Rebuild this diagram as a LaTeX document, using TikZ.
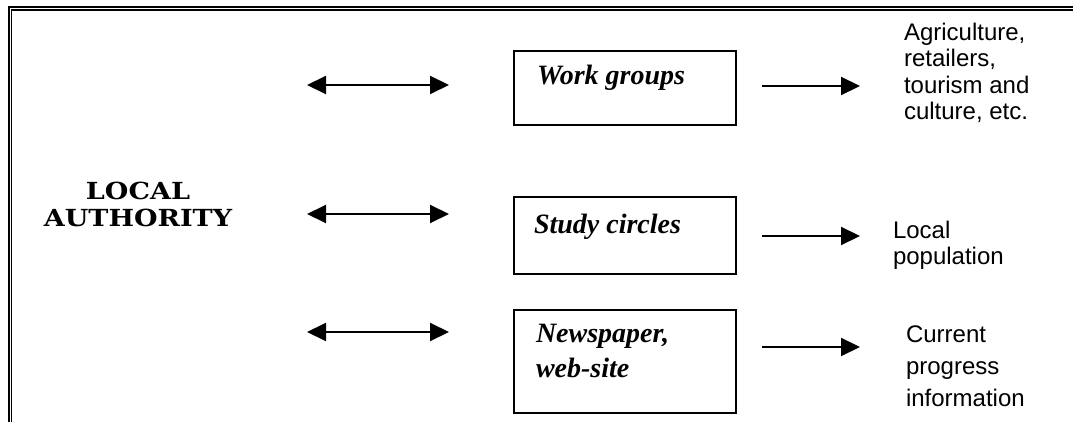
\documentclass[tikz,border=0pt]{standalone}
\usepackage{fontspec}
\usetikzlibrary{arrows.meta}
\setmainfont{Liberation Serif}
\newfontfamily\labelfont{Liberation Sans}
\newfontfamily\headfont[FakeStretch=1.15]{DejaVu Serif}

\begin{document}
\begin{tikzpicture}[x = 1pt, y = -1pt, line width = 2pt,
  box/.style = {draw, anchor = north west, minimum width = 222pt, inner sep = 0pt},
  boxtext/.style = {anchor = north west, inner sep = 0pt, align = left,
    font = \fontsize{28}{35}\selectfont\bfseries\itshape},
  sidetext/.style = {anchor = north west, inner sep = 0pt, align = left,
    font = \labelfont\fontsize{24}{26.5}\selectfont},
  tip/.style = {-{Triangle[length = 19pt, width = 18pt]}},
  both/.style = {{Triangle[length = 19pt, width = 18pt]}-{Triangle[length = 19pt, width = 18pt]}}]
\useasboundingbox (0,0) rectangle (1073,422);
% double frame, top and left
\draw[line width = 2.5pt] (9,422) -- (9,7) -- (1073,7);
\draw[line width = 1.2pt] (11.8,422) -- (11.8,10) -- (1073,10);
\node[anchor = north, inner sep = 0pt, align = center,
  font = \headfont\bfseries\fontsize{23.5}{27}\selectfont] (auth) at (138,181) {LOCAL\\AUTHORITY};
% the three channels
\node[box, minimum height = 74pt] (work) at (513,50) {};
\node[box, minimum height = 77pt] (study) at (513,196) {};
\node[box, minimum height = 103pt] (news) at (513,309) {};
\node[boxtext] (worklbl) at (536,64) {Work groups};
\node[boxtext] (studylbl) at (533,213) {Study circles};
\node[boxtext] (newslbl) at (535,323) {Newspaper,\\web-site};
\coordinate (l1) at (307,85);
\coordinate (r1) at (449,85);
\coordinate (l2) at (307,214);
\coordinate (r2) at (449,214);
\coordinate (l3) at (307,332);
\coordinate (r3) at (449,332);
\draw[both] (l1) -- (r1);
\draw[both] (l2) -- (r2);
\draw[both] (l3) -- (r3);
\coordinate (o1) at (762,86);
\coordinate (p1) at (860,86);
\coordinate (o2) at (762,236);
\coordinate (p2) at (860,236);
\coordinate (o3) at (762,347);
\coordinate (p3) at (860,347);
\draw[tip] (o1) -- (p1);
\draw[tip] (o2) -- (p2);
\draw[tip] (o3) -- (p3);
% target groups
\node[sidetext] (agri) at (903,22) {Agriculture,\\retailers,\\tourism and\\culture, etc.};
\node[sidetext] (pop) at (892,220) {Local\\population};
\node[sidetext, font = \labelfont\fontsize{24}{32}\selectfont] (info) at (905,325) {Current\\progress\\information};
\end{tikzpicture}
\end{document}
